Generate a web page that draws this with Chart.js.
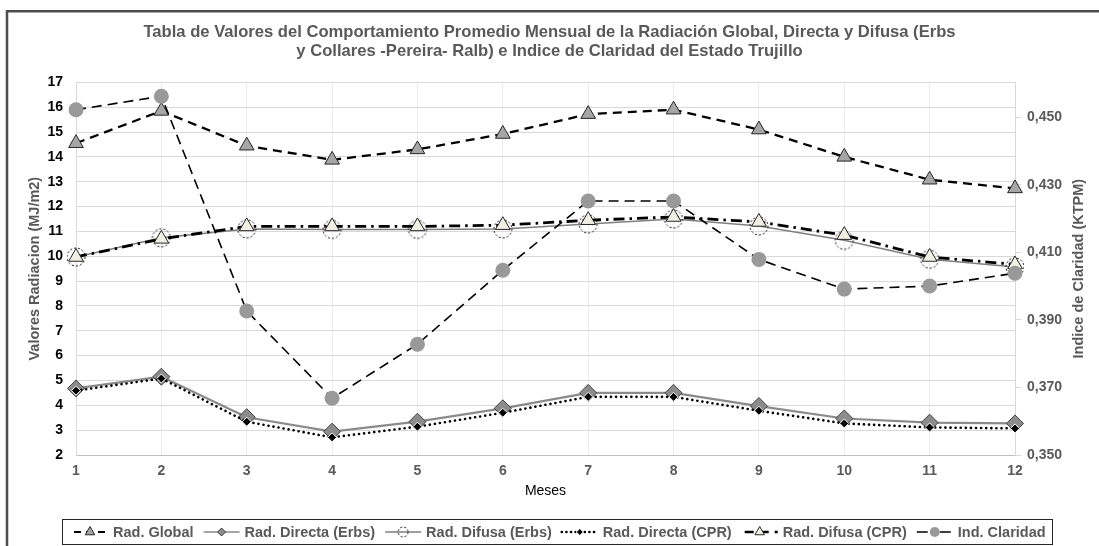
<!DOCTYPE html>
<html><head><meta charset="utf-8">
<script src="https://cdn.jsdelivr.net/npm/chart.js@4.4.1/dist/chart.umd.min.js"></script>
<style>html,body{margin:0;padding:0;background:#fff;overflow:hidden}#wrap{position:absolute;left:0;top:0;width:1099px;height:546px}</style>
</head><body><div id="wrap"><canvas id="c" width="1099" height="546"></canvas></div>
<script>
const titleLines = [
  'Tabla de Valores del Comportamiento Promedio Mensual de la Radiación Global, Directa y Difusa (Erbs',
  'y Collares -Pereira- Ralb) e Indice de Claridad del Estado Trujillo'
];
const leftAxisTitle = 'Valores Radiacion (MJ/m2)';
const rightAxisTitle = 'Indice de Claridad (KTPM)';
const xAxisTitle = 'Meses';
const months = ['1','2','3','4','5','6','7','8','9','10','11','12'];
const seriesNames = ['Rad. Global','Rad. Directa (Erbs)','Rad. Difusa (Erbs)','Rad. Directa (CPR)','Rad. Difusa (CPR)','Ind. Claridad'];
const radGlobal   = [14.55, 15.85, 14.45, 13.88, 14.3, 14.92, 15.72, 15.9, 15.1, 14.0, 13.08, 12.73];
const radDirErbs  = [4.68, 5.15, 3.52, 2.94, 3.34, 3.88, 4.5, 4.5, 3.97, 3.47, 3.3, 3.27];
const radDifErbs  = [9.97, 10.74, 11.1, 11.08, 11.08, 11.1, 11.3, 11.5, 11.22, 10.64, 9.88, 9.57];
const radDirCPR   = [4.59, 5.08, 3.34, 2.71, 3.14, 3.7, 4.34, 4.34, 3.78, 3.27, 3.11, 3.07];
const radDifCPR   = [9.97, 10.7, 11.2, 11.2, 11.2, 11.25, 11.45, 11.58, 11.38, 10.85, 9.97, 9.67];
const indClaridad = [0.4522, 0.4562, 0.3926, 0.3668, 0.3828, 0.4047, 0.4252, 0.4252, 0.4079, 0.3991, 0.4000, 0.4038];
const leftTicks  = [2,3,4,5,6,7,8,9,10,11,12,13,14,15,16,17];
const rightTicks = [0.35,0.37,0.39,0.41,0.43,0.45];

const FONT = '"Liberation Sans", Arial, sans-serif';
const GRAY = '#595959';

function dashedCircle(r){
  const s = Math.ceil(2*r+4);
  const c = document.createElement('canvas'); c.width = s; c.height = s;
  const x = c.getContext('2d');
  x.setLineDash([2.2,1.8]); x.strokeStyle = '#262626'; x.lineWidth = 1;
  x.beginPath(); x.arc(s/2, s/2, r, 0, Math.PI*2); x.stroke();
  return c;
}
const bigDashCircle = dashedCircle(9);
const smallDashCircle = dashedCircle(5);

const datasets = [
  {label: seriesNames[0], data: radGlobal, yAxisID:'y', borderColor:'#000', borderWidth:2.3, borderDash:[9,6],
   pointStyle:'triangle', pointRadius:8.5, pointBackgroundColor:'#a6a6a6', pointBorderColor:'#262626', pointBorderWidth:1, order:5,
   lg:{dash:[7,5], dashOffset:-2, width:2, r:5.5}},
  {label: seriesNames[1], data: radDirErbs, yAxisID:'y', borderColor:'#8a8a8a', borderWidth:2.2,
   pointStyle:'rectRot', pointRadius:8.5, pointBackgroundColor:'#8c8c8c', pointBorderColor:'#404040', pointBorderWidth:1, order:4,
   lg:{dash:[], width:1.5, r:4}},
  {label: seriesNames[2], data: radDifErbs, yAxisID:'y', borderColor:'#7f7f7f', borderWidth:1.5,
   pointStyle:bigDashCircle, pointRadius:9, pointBackgroundColor:'rgba(0,0,0,0)', pointBorderColor:'#262626', pointBorderWidth:0, order:3,
   lg:{dash:[], width:1.5, img:smallDashCircle}},
  {label: seriesNames[3], data: radDirCPR, yAxisID:'y', borderColor:'#000', borderWidth:2.6, borderDash:[0.1,5], borderCapStyle:'round',
   pointStyle:'rectRot', pointRadius:4.5, pointBackgroundColor:'#000', pointBorderColor:'#fff', pointBorderWidth:1, order:2,
   lg:{dash:[0.1,4.5], width:2.6, cap:'round', r:3.5}},
  {label: seriesNames[4], data: radDifCPR, yAxisID:'y', borderColor:'#000', borderWidth:2.8, borderDash:[11,5,2.5,5],
   pointStyle:'triangle', pointRadius:8.5, pointBackgroundColor:'#efefe4', pointBorderColor:'#262626', pointBorderWidth:1, order:1,
   lg:{dash:[9,6], dashOffset:-3, width:2.4, r:5.5}},
  {label: seriesNames[5], data: indClaridad, yAxisID:'y1', borderColor:'#000', borderWidth:1.6, borderDash:[10,6],
   pointStyle:'circle', pointRadius:7.5, pointBackgroundColor:'#999999', pointBorderColor:'#999999', pointBorderWidth:0, order:0,
   lg:{dash:[11,4,4,4], width:1.5, r:5}}
];
datasets.forEach(d => { d.tension = 0; d.fill = false; d.pointHoverRadius = d.pointRadius; });

const framePlugin = {
  id:'frame',
  beforeDraw(chart){
    const ctx = chart.ctx; ctx.save();
    ctx.fillStyle = '#fff'; ctx.fillRect(0,0,chart.width,chart.height);
    ctx.strokeStyle = '#4d4d4d'; ctx.lineWidth = 2.5;
    ctx.beginPath(); ctx.moveTo(7, 546); ctx.lineTo(7, 11.2); ctx.lineTo(1099, 11.2); ctx.stroke();
    ctx.restore();
  }
};

const rightTitlePlugin = {
  id:'rightTitle',
  afterDraw(chart){
    const ctx = chart.ctx, a = chart.chartArea; ctx.save();
    ctx.translate(1079, (a.top + a.bottom)/2);
    ctx.rotate(-Math.PI/2);
    ctx.font = 'bold 14.5px ' + FONT; ctx.fillStyle = GRAY;
    ctx.textAlign = 'center'; ctx.textBaseline = 'middle';
    ctx.fillText(rightAxisTitle, 0, 0);
    ctx.restore();
  }
};

const legendPlugin = {
  id:'customLegend',
  afterDraw(chart){
    const ctx = chart.ctx; ctx.save();
    ctx.strokeStyle = '#262626'; ctx.lineWidth = 1; ctx.setLineDash([]);
    ctx.strokeRect(62.5, 519.5, 990, 25);
    ctx.font = 'bold 14.5px ' + FONT; ctx.textBaseline = 'middle'; ctx.textAlign = 'left';
    let x = 72; const y = 532; const sw = 36;
    chart.data.datasets.forEach(ds => {
      const lg = ds.lg;
      ctx.save();
      ctx.strokeStyle = ds.borderColor; ctx.lineWidth = lg.width; ctx.setLineDash(lg.dash);
      ctx.lineDashOffset = lg.dashOffset || 0; ctx.lineCap = lg.cap || 'butt';
      ctx.beginPath(); ctx.moveTo(x, y); ctx.lineTo(x+sw, y); ctx.stroke();
      ctx.restore();
      ctx.save();
      ctx.setLineDash([]);
      if (lg.img) {
        ctx.drawImage(lg.img, x+sw/2-lg.img.width/2, y-lg.img.height/2);
      } else {
        ctx.fillStyle = ds.pointBackgroundColor; ctx.strokeStyle = ds.pointBorderColor; ctx.lineWidth = ds.pointBorderWidth;
        Chart.helpers.drawPoint(ctx, {pointStyle: ds.pointStyle, radius: lg.r, borderWidth: ds.pointBorderWidth, rotation: 0}, x+sw/2, y);
      }
      ctx.restore();
      ctx.fillStyle = GRAY;
      ctx.fillText(ds.label, x+sw+5, y+1);
      x += sw + 5 + ctx.measureText(ds.label).width + 10;
    });
    ctx.restore();
  }
};

new Chart(document.getElementById('c'), {
  type:'line',
  data:{labels: months, datasets},
  plugins:[framePlugin, rightTitlePlugin, legendPlugin],
  options:{
    responsive:false, animation:false, events:[],
    layout:{padding:{top:12, left:0, right:0, bottom:46}},
    plugins:{
      legend:{display:false}, tooltip:{enabled:false},
      title:{display:true, text:titleLines, color:GRAY, font:{family:FONT, size:16.6, weight:'bold', lineHeight:1.2}, padding:{top:10, bottom:20.5}}
    },
    scales:{
      x:{
        offset:false,
        grid:{color:'#ebebeb', drawTicks:false, lineWidth:1},
        border:{color:'#bfbfbf', width:1},
        ticks:{color:GRAY, font:{family:FONT, size:14, weight:'bold'}, padding:8, maxRotation:0, autoSkip:false},
        title:{display:true, text:xAxisTitle, color:'#000', font:{family:FONT, size:14}, padding:{top:0, bottom:0}},
        afterFit(s){ s.height = 45; }
      },
      y:{
        position:'left', min:2, max:17,
        grid:{color:'#d9d9d9', drawTicks:false},
        border:{color:'#d9d9d9'},
        ticks:{color:'#000', font:{family:FONT, size:14, weight:'bold'}, padding:13},
        afterBuildTicks(s){ s.ticks = leftTicks.map(v => ({value:v})); },
        title:{display:true, text:leftAxisTitle, color:GRAY, font:{family:FONT, size:14.5, weight:'bold'}, padding:{top:26, bottom:0}},
        afterFit(s){ s.width = 76; }
      },
      y1:{
        position:'right', min:0.35, max:0.4603,
        grid:{drawOnChartArea:false, color:'#d9d9d9', drawTicks:true, tickLength:6},
        border:{color:'#d9d9d9'},
        ticks:{color:GRAY, font:{family:FONT, size:14, weight:'bold'}, padding:6,
               callback:(v) => Number(v).toFixed(3).replace('.', ',')},
        afterBuildTicks(s){ s.ticks = rightTicks.map(v => ({value:v})); },
        title:{display:false},
        afterFit(s){ s.width = 84; }
      }
    }
  }
});
</script></body></html>
